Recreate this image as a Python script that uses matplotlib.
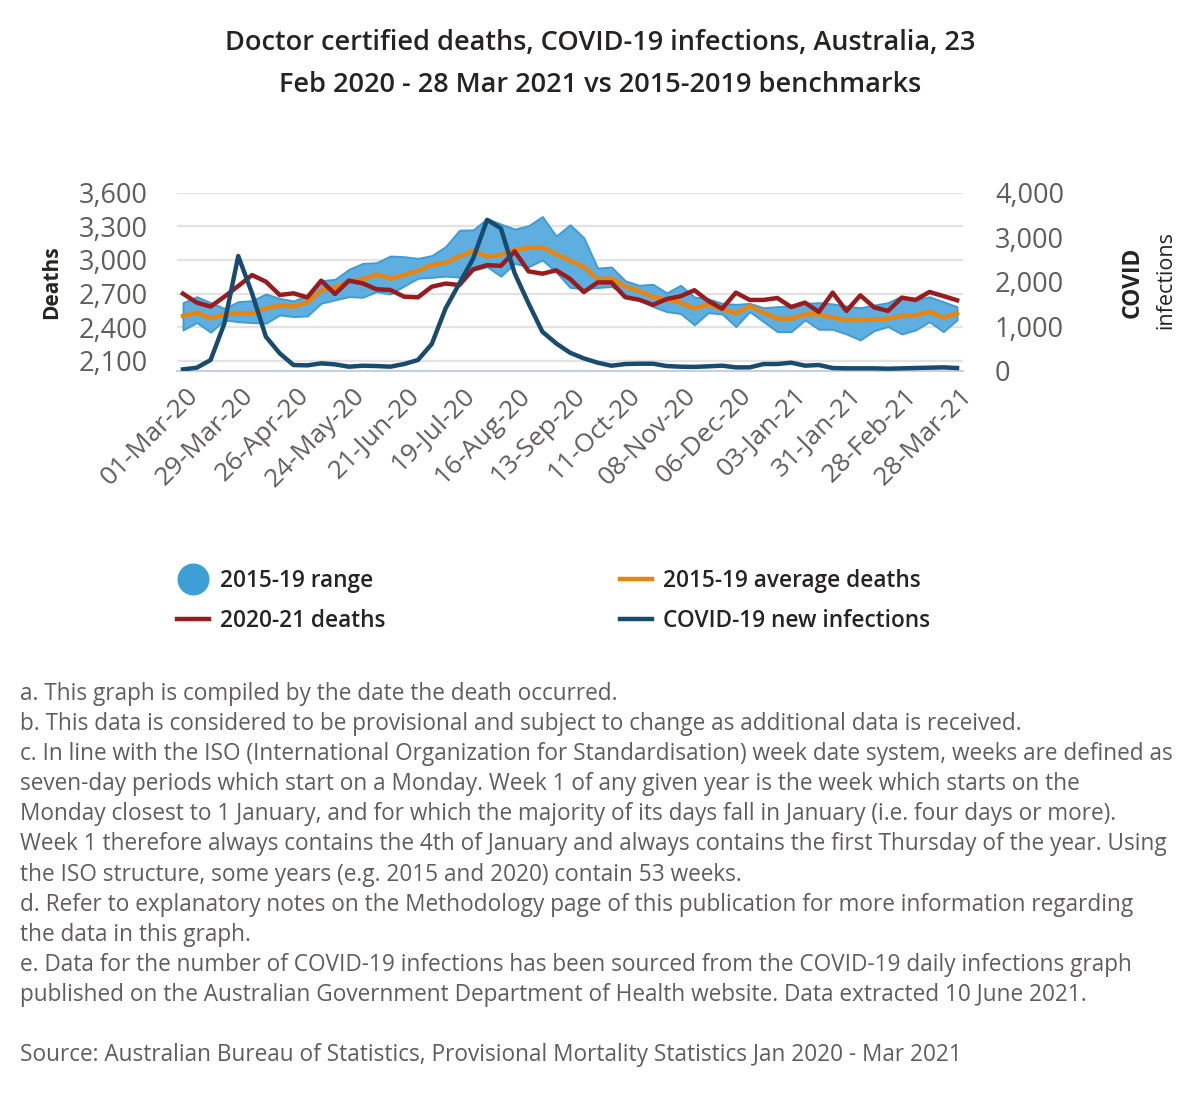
import numpy as np
import matplotlib
matplotlib.use("Agg")
import matplotlib.pyplot as plt
import matplotlib.transforms as mtransforms
from matplotlib.lines import Line2D
from matplotlib.ticker import FuncFormatter

plt.rcParams["font.family"] = ["Open Sans", "DejaVu Sans"]

# weekly values, 01-Mar-20 .. 28-Mar-21 (57 weeks)
range_max = [2620, 2673, 2620, 2569, 2629, 2638, 2697, 2658, 2635, 2688,
             2816, 2828, 2917, 2970, 2976, 3036, 3030, 3015, 3040, 3120,
             3266, 3269, 3370, 3321, 3276, 3306, 3388, 3214, 3315, 3199,
             2928, 2938, 2815, 2775, 2784, 2707, 2775, 2670, 2655, 2614,
             2605, 2614, 2575, 2584, 2590, 2614, 2620, 2609, 2590, 2575,
             2599, 2620, 2679, 2644, 2673, 2629, 2584]
range_min = [2376, 2442, 2356, 2465, 2450, 2442, 2436, 2510, 2495, 2501,
             2614, 2644, 2673, 2667, 2718, 2697, 2768, 2837, 2845, 2856,
             2847, 2908, 2939, 2856, 2970, 2939, 3000, 2893, 2755, 2744,
             2754, 2763, 2692, 2646, 2585, 2539, 2523, 2421, 2530, 2519,
             2406, 2540, 2450, 2361, 2361, 2465, 2382, 2382, 2340, 2287,
             2370, 2406, 2340, 2376, 2450, 2361, 2465]
avg_deaths = [2501, 2531, 2480, 2516, 2525, 2525, 2569, 2596, 2584, 2623,
              2727, 2757, 2807, 2828, 2872, 2834, 2866, 2905, 2955, 2975,
              3031, 3083, 3031, 3046, 3092, 3107, 3113, 3052, 2995, 2938,
              2830, 2836, 2763, 2723, 2671, 2646, 2620, 2568, 2605, 2560,
              2525, 2590, 2530, 2477, 2477, 2516, 2516, 2486, 2465, 2465,
              2471, 2477, 2501, 2507, 2540, 2486, 2525]
deaths_2020_21 = [2700, 2620, 2585, 2673, 2768, 2866, 2807, 2688, 2703, 2667,
                  2816, 2697, 2816, 2792, 2739, 2733, 2673, 2667, 2762, 2790,
                  2777, 2917, 2954, 2948, 3077, 2899, 2878, 2908, 2832, 2714,
                  2800, 2800, 2668, 2646, 2600, 2652, 2677, 2731, 2635, 2566,
                  2709, 2644, 2644, 2661, 2581, 2620, 2537, 2709, 2546, 2685,
                  2578, 2546, 2664, 2644, 2715, 2679, 2641]
covid_infections = [30, 67, 240, 1063, 2577, 1738, 764, 390, 127, 120,
                    165, 142, 90, 112, 105, 90, 150, 240, 600, 1400,
                    1962, 2524, 3390, 3200, 2187, 1513, 876, 614, 404, 277,
                    180, 112, 150, 157, 157, 105, 90, 85, 98, 113,
                    75, 75, 150, 150, 180, 113, 128, 60, 53, 53,
                    53, 45, 53, 60, 68, 75, 60]
tick_labels = ["01-Mar-20", "29-Mar-20", "26-Apr-20", "24-May-20", "21-Jun-20",
               "19-Jul-20", "16-Aug-20", "13-Sep-20", "11-Oct-20", "08-Nov-20",
               "06-Dec-20", "03-Jan-21", "31-Jan-21", "28-Feb-21", "28-Mar-21"]
death_ticks = [2100, 2400, 2700, 3000, 3300, 3600]
covid_ticks = [0, 1000, 2000, 3000, 4000]

notes = [
    "a. This graph is compiled by the date the death occurred.",
    "b. This data is considered to be provisional and subject to change as additional data is received.",
    "c. In line with the ISO (International Organization for Standardisation) week date system, weeks are defined as",
    "seven-day periods which start on a Monday. Week 1 of any given year is the week which starts on the",
    "Monday closest to 1 January, and for which the majority of its days fall in January (i.e. four days or more).",
    "Week 1 therefore always contains the 4th of January and always contains the first Thursday of the year. Using",
    "the ISO structure, some years (e.g. 2015 and 2020) contain 53 weeks.",
    "d. Refer to explanatory notes on the Methodology page of this publication for more information regarding",
    "the data in this graph.",
    "e. Data for the number of COVID-19 infections has been sourced from the COVID-19 daily infections graph",
    "published on the Australian Government Department of Health website. Data extracted 10 June 2021.",
    "",
    "Source: Australian Bureau of Statistics, Provisional Mortality Statistics Jan 2020 - Mar 2021",
]

BAND = "#5eaee0"
BAND_EDGE = "#3d9bd3"
ORANGE = "#e8850f"
RED = "#981b1e"
NAVY = "#184b6e"
TICK_GREY = "#605e5c"
TEXT_DARK = "#252423"

x = np.arange(len(deaths_2020_21))

fig = plt.figure(figsize=(12, 11), dpi=100)
ax = fig.add_axes([177 / 1200, 1 - 370.7 / 1100, 786 / 1200, 178 / 1100])

ax.fill_between(x, range_min, range_max, color=BAND, edgecolor=BAND_EDGE,
                linewidth=1.3, zorder=2)
ax.plot(x, avg_deaths, color=ORANGE, lw=3.2, zorder=3)
ax.plot(x, deaths_2020_21, color=RED, lw=3.2, zorder=4)

ax.set_xlim(-0.43, len(x) - 1 + 0.43)
ax.set_ylim(2013, 3600)
ax.set_yticks(death_ticks)
ax.yaxis.set_major_formatter(FuncFormatter(lambda v, p: f"{v:,.0f}"))
ax.grid(axis="y", color="#e3e3e3", lw=1.6, zorder=0)
ax.set_axisbelow(True)
for s in ["top", "left", "right"]:
    ax.spines[s].set_visible(False)
ax.spines["bottom"].set_color("#c6cfe6")
ax.spines["bottom"].set_linewidth(1.5)
ax.tick_params(axis="y", length=0, pad=21, labelsize=19.5, labelcolor=TICK_GREY)

ax.set_xticks(x[::4])
ax.set_xticklabels(tick_labels)
ax.tick_params(axis="x", length=0, pad=9, labelsize=19, labelcolor=TICK_GREY)
offset = mtransforms.ScaledTranslation(3 / 100, 0, fig.dpi_scale_trans)
for lbl in ax.get_xticklabels():
    lbl.set_rotation(45)
    lbl.set_ha("right")
    lbl.set_rotation_mode("anchor")
    lbl.set_transform(lbl.get_transform() + offset)

ax2 = ax.twinx()
ax2.plot(x, covid_infections, color=NAVY, lw=3.2, zorder=5)
ax2.set_ylim(0, 4000)
ax2.set_yticks(covid_ticks)
ax2.yaxis.set_major_formatter(FuncFormatter(lambda v, p: f"{v:,.0f}"))
for s in ax2.spines.values():
    s.set_visible(False)
ax2.tick_params(axis="y", length=0, pad=23, labelsize=19.5, labelcolor=TICK_GREY)

# axis titles
fig.text(52 / 1200, 1 - 282 / 1100, "Deaths", rotation=90, ha="center", va="center",
         fontsize=15, weight="bold", color=TEXT_DARK)
fig.text(1133 / 1200, 1 - 282 / 1100, "COVID", rotation=90, ha="center", va="center",
         fontsize=16.5, weight="bold", color=TEXT_DARK)
fig.text(1166 / 1200, 1 - 280 / 1100, "infections", rotation=90, ha="center", va="center",
         fontsize=15.5, color=TEXT_DARK)

# title
fig.text(0.5, 1 - 43 / 1100, "Doctor certified deaths, COVID-19 infections, Australia, 23",
         ha="center", va="center", fontsize=19.5, weight="semibold", color=TEXT_DARK)
fig.text(0.5, 1 - 85 / 1100, "Feb 2020 - 28 Mar 2021 vs 2015-2019 benchmarks",
         ha="center", va="center", fontsize=19.5, weight="semibold", color=TEXT_DARK)

# legend
h_range = Line2D([], [], ls="none", marker="o", markersize=22, color="#3d9fd6")
h_red = Line2D([], [], color=RED, lw=3.2)
h_avg = Line2D([], [], color=ORANGE, lw=3.2)
h_cov = Line2D([], [], color=NAVY, lw=3.2)
leg_kw = dict(frameon=False, handlelength=1.4, handletextpad=0.5,
              labelspacing=0.7, prop={"size": 16.3, "weight": "semibold"})
leg1 = fig.legend([h_range, h_red], ["2015-19 range", "2020-21 deaths"],
                  loc="upper left", bbox_to_anchor=(157 / 1200, 1 - 549 / 1100), **leg_kw)
leg2 = fig.legend([h_avg, h_cov], ["2015-19 average deaths", "COVID-19 new infections"],
                  loc="upper left", bbox_to_anchor=(600 / 1200, 1 - 549 / 1100), **leg_kw)
for leg in (leg1, leg2):
    for t in leg.get_texts():
        t.set_color(TEXT_DARK)

# notes
for i, line in enumerate(notes):
    fig.text(20 / 1200, 1 - (694 + 30.1 * i) / 1100, line, ha="left", va="center",
             fontsize=16.3, color=TICK_GREY)

fig.savefig("out.png", dpi=100, facecolor="white")
